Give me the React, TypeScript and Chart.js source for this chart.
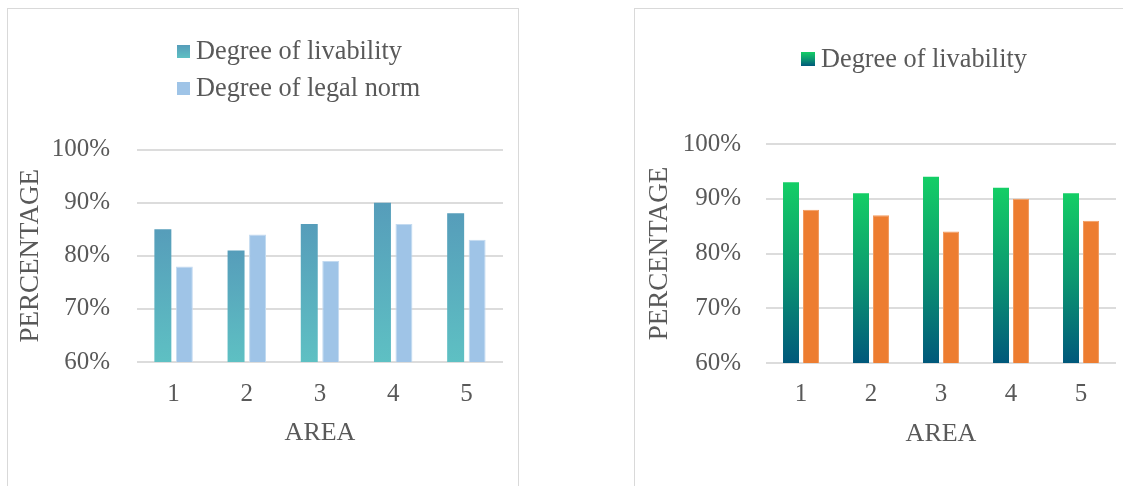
import React, { useEffect, useRef } from 'react';
import { Chart, registerables } from 'chart.js';

Chart.register(...registerables);

// ---------- data ----------
const AREAS = ['1', '2', '3', '4', '5'];
const LEFT_LIVABILITY = [85, 81, 86, 90, 88];
const LEFT_LEGAL_NORM = [78, 84, 79, 86, 83];
const RIGHT_LIVABILITY = [93, 91, 94, 92, 91];
const RIGHT_LEGAL_NORM = [88, 87, 84, 90, 86];
const SERIES_NAMES = ['Degree of livability', 'Degree of legal norm'];
const Y_MIN = 60;
const Y_MAX = 100;
const Y_STEP = 10;
const Y_TITLE = 'PERCENTAGE';
const X_TITLE = 'AREA';

// ---------- styles ----------
const FONT = "'Liberation Serif', 'Times New Roman', serif";
const TEXT = '#595959';
const GRID = '#DCDCDC';

type Stop = [number, string];
const LEFT_LIV_STOPS: Stop[] = [[0, '#569DBA'], [1, '#5EC0C3']];
const RIGHT_LIV_STOPS: Stop[] = [[0, '#14CE66'], [0.5, '#0C9870'], [1, '#00587B']];

function barGradient(stops: Stop[]) {
  return (ctx: any) => {
    const chart = ctx.chart;
    const area = chart.chartArea;
    if (!area || ctx.type !== 'data' || !chart.scales.y) return stops[0][1];
    const ys = chart.scales.y;
    const top = ys.getPixelForValue(ctx.raw);
    const base = ys.getPixelForValue(Y_MIN);
    if (!isFinite(top) || !isFinite(base) || top === base) return stops[0][1];
    const g = chart.ctx.createLinearGradient(0, top, 0, base);
    stops.forEach(([o, c]) => g.addColorStop(o, c));
    return g;
  };
}

function cssGradient(stops: Stop[]) {
  return 'linear-gradient(to bottom, ' + stops.map(([o, c]) => `${c} ${o * 100}%`).join(', ') + ')';
}

interface Layout {
  yWidth: number;
  xHeight: number;
  tickPadY: number;
  tickPadX: number;
  yTitlePad: number;
  xTitlePad: number;
  padding: { left: number; right: number; top: number; bottom: number };
  tickSize: number;
  titleSize: number;
  yTitleSize: number;
}

function makeConfig(datasets: any[], L: Layout): any {
  return {
    type: 'bar',
    data: { labels: AREAS, datasets },
    options: {
      responsive: false,
      maintainAspectRatio: false,
      animation: false,
      layout: { padding: L.padding },
      plugins: { legend: { display: false }, tooltip: { enabled: false } },
      scales: {
        x: {
          grid: { display: false, drawTicks: false },
          border: { display: false },
          ticks: { font: { family: FONT, size: L.tickSize }, color: TEXT, padding: L.tickPadX },
          title: {
            display: true,
            text: X_TITLE,
            font: { family: FONT, size: L.titleSize },
            color: TEXT,
            padding: { top: 0, bottom: L.xTitlePad },
          },
          afterFit: (s: any) => {
            s.height = L.xHeight;
          },
        },
        y: {
          min: Y_MIN,
          max: Y_MAX,
          grid: { color: GRID, lineWidth: 2, drawTicks: false },
          border: { display: false },
          ticks: {
            stepSize: Y_STEP,
            callback: (v: any) => v + '%',
            font: { family: FONT, size: L.tickSize },
            color: TEXT,
            padding: L.tickPadY,
          },
          title: {
            display: true,
            text: Y_TITLE,
            font: { family: FONT, size: L.yTitleSize },
            color: TEXT,
            padding: { top: L.yTitlePad, bottom: 0 },
          },
          afterFit: (s: any) => {
            s.width = L.yWidth;
          },
        },
      },
    },
  };
}

function ChartCanvas({ config, left, top, width, height }: any) {
  const ref = useRef<HTMLCanvasElement | null>(null);
  useEffect(() => {
    if (!ref.current) return;
    const chart = new Chart(ref.current, config);
    return () => chart.destroy();
  }, []);
  return (
    <canvas
      ref={ref}
      width={width}
      height={height}
      style={{ position: 'absolute', left, top, width, height }}
    />
  );
}

function LegendItem({ left, top, box, fill, label }: any) {
  return (
    <div
      style={{
        position: 'absolute',
        left,
        top,
        height: 30,
        display: 'flex',
        alignItems: 'center',
        fontFamily: FONT,
        fontSize: 26.3,
        color: TEXT,
        whiteSpace: 'nowrap',
      }}
    >
      <span style={{ display: 'inline-block', width: box, height: box, background: fill, marginRight: 6 }} />
      <span>{label}</span>
    </div>
  );
}

export default function App() {
  const leftDatasets = [
    {
      label: SERIES_NAMES[0],
      data: LEFT_LIVABILITY,
      backgroundColor: barGradient(LEFT_LIV_STOPS),
      categoryPercentage: 0.587,
      barPercentage: 0.79,
    },
    {
      label: SERIES_NAMES[1],
      data: LEFT_LEGAL_NORM,
      backgroundColor: '#9FC4E7',
      borderColor: '#C3DAF0',
      borderWidth: 1,
      categoryPercentage: 0.587,
      barPercentage: 0.79,
    },
  ];
  const rightDatasets = [
    {
      label: SERIES_NAMES[0],
      data: RIGHT_LIVABILITY,
      backgroundColor: barGradient(RIGHT_LIV_STOPS),
      categoryPercentage: 0.571,
      barPercentage: 0.8,
    },
    {
      label: SERIES_NAMES[1],
      data: RIGHT_LEGAL_NORM,
      backgroundColor: '#ED7D31',
      borderColor: '#F29A5E',
      borderWidth: 1,
      categoryPercentage: 0.571,
      barPercentage: 0.8,
    },
  ];

  const leftConfig = makeConfig(leftDatasets, {
    yWidth: 137,
    xHeight: 90,
    tickPadY: 27,
    tickPadX: 17,
    yTitlePad: 15,
    xTitlePad: 3,
    padding: { left: 0, right: 17, top: 149.5, bottom: 34 },
    tickSize: 25,
    titleSize: 26,
    yTitleSize: 27,
  });
  const rightConfig = makeConfig(rightDatasets, {
    yWidth: 166,
    xHeight: 90,
    tickPadY: 25,
    tickPadX: 16.5,
    yTitlePad: 44,
    xTitlePad: 3.4,
    padding: { left: 0, right: 7, top: 144, bottom: 33 },
    tickSize: 25,
    titleSize: 26,
    yTitleSize: 27,
  });

  return (
    <div style={{ position: 'absolute', left: 0, top: 0, width: 1123, height: 486, overflow: 'hidden', background: '#fff' }}>
      <div style={{ position: 'absolute', left: 7, top: 8, width: 510, height: 500, border: '1px solid #D9D9D9' }} />
      <div style={{ position: 'absolute', left: 634, top: 8, width: 600, height: 500, border: '1px solid #D9D9D9' }} />
      <ChartCanvas config={leftConfig} left={0} top={0} width={520} height={486} />
      <ChartCanvas config={rightConfig} left={600} top={0} width={523} height={486} />
      <LegendItem left={177} top={36} box={13} fill={cssGradient(LEFT_LIV_STOPS)} label={SERIES_NAMES[0]} />
      <LegendItem left={177} top={73} box={13} fill="#9FC4E7" label={SERIES_NAMES[1]} />
      <LegendItem left={801} top={44} box={14} fill={cssGradient(RIGHT_LIV_STOPS)} label={SERIES_NAMES[0]} />
    </div>
  );
}
